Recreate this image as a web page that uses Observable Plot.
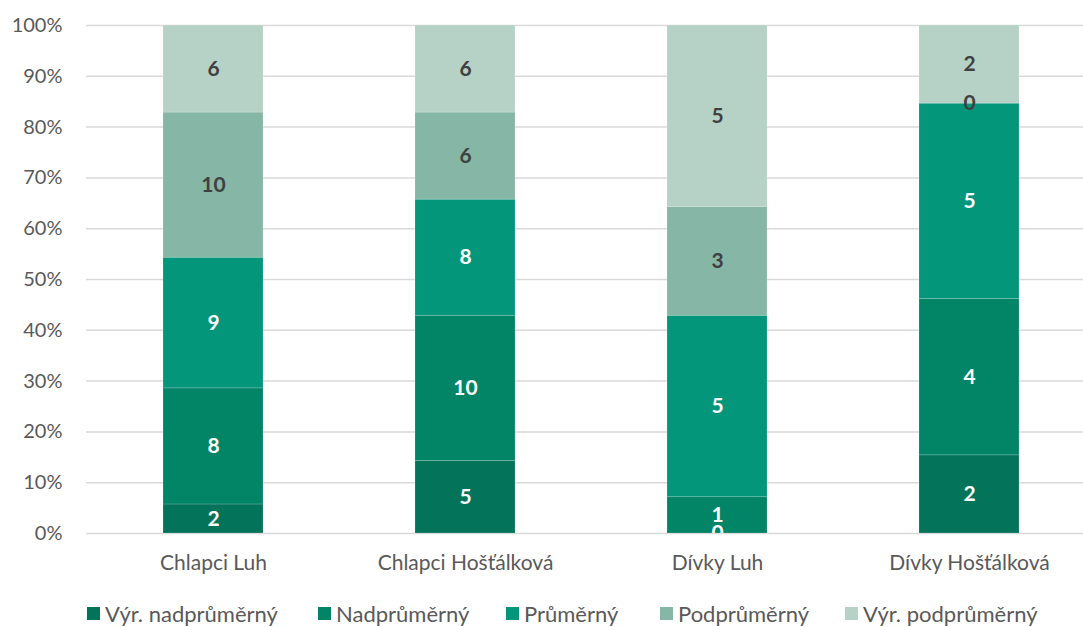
<!DOCTYPE html>
<html>
<head>
<meta charset="utf-8">
<script src="https://cdn.jsdelivr.net/npm/d3@7"></script>
<script src="https://cdn.jsdelivr.net/npm/@observablehq/plot@0.6"></script>
<style>
  body { margin: 0; background: #fff; font-family: Lato, "Open Sans", sans-serif; }
  #legend { position: relative; height: 37px; font-size: 22px; color: #595959; }
  #legend span.item { position: absolute; top: 10px; display: flex; align-items: center; gap: 5px; white-space: nowrap; }
  #legend span.sw { width: 13px; height: 13px; display: inline-block; }
</style>
</head>
<body>
<div id="chart"></div>
<div id="legend"></div>
<script>
const categories = ["Chlapci Luh", "Chlapci Hošťálková", "Dívky Luh", "Dívky Hošťálková"];
const seriesNames = ["Výr. nadprůměrný", "Nadprůměrný", "Průměrný", "Podprůměrný", "Výr. podprůměrný"];
const colors = ["#03735A", "#028467", "#03967A", "#86B6A5", "#B6D2C7"];
const labelColors = ["#ffffff", "#ffffff", "#ffffff", "#404040", "#404040"];
const vyrNadprumerny = [2, 5, 0, 2];
const nadprumerny = [8, 10, 1, 4];
const prumerny = [9, 8, 5, 5];
const podprumerny = [10, 6, 3, 0];
const vyrPodprumerny = [6, 6, 5, 2];
const yTicks = [0, 0.1, 0.2, 0.3, 0.4, 0.5, 0.6, 0.7, 0.8, 0.9, 1];
const legendX = [87, 318, 506, 660, 845];

const seriesValues = [vyrNadprumerny, nadprumerny, prumerny, podprumerny, vyrPodprumerny];
const data = [];
seriesNames.forEach((s, si) => {
  categories.forEach((c, ci) => {
    data.push({category: c, series: s, value: seriesValues[si][ci], labelColor: labelColors[si]});
  });
});

const W = 1083, H = 590;
const chart = Plot.plot({
  width: W,
  height: H,
  marginLeft: 86,
  marginRight: 0,
  marginTop: 25,
  marginBottom: 57,
  style: {fontFamily: "Lato, 'Open Sans', sans-serif", fontSize: "20px", color: "#595959", background: "#fff"},
  x: {type: "band", domain: categories, range: [86, 1096], paddingInner: 0.604, paddingOuter: 0.302, label: null},
  y: {domain: [0, 1], label: null},
  color: {domain: seriesNames, range: colors},
  marks: [
    Plot.ruleY(yTicks, {stroke: "#d9d9d9", strokeWidth: 1.5}),
    Plot.barY(data, Plot.stackY({offset: "normalize", x: "category", y: "value", fill: "series", z: "series", stroke: "#ffffff", strokeOpacity: 0.2, strokeWidth: 0.8})),
    Plot.text(data, Plot.stackY({offset: "normalize", x: "category", y: "value", z: "series", text: d => String(d.value), fill: "labelColor", fontSize: 21, fontWeight: "bold", clip: true})),
    Plot.axisY({ticks: yTicks, tickFormat: d3.format(".0%"), tickSize: 0, tickPadding: 24, fontSize: 20, fill: "#595959"}),
    Plot.axisX({tickSize: 0, tickPadding: 22, fontSize: 21, fill: "#595959"})
  ]
});
document.getElementById("chart").appendChild(chart);

const legend = document.getElementById("legend");
seriesNames.forEach((s, i) => {
  const item = document.createElement("span");
  item.className = "item";
  item.style.left = legendX[i] + "px";
  const sw = document.createElement("span");
  sw.className = "sw";
  sw.style.background = colors[i];
  const t = document.createElement("span");
  t.textContent = s;
  item.appendChild(sw);
  item.appendChild(t);
  legend.appendChild(item);
});
</script>
</body>
</html>
